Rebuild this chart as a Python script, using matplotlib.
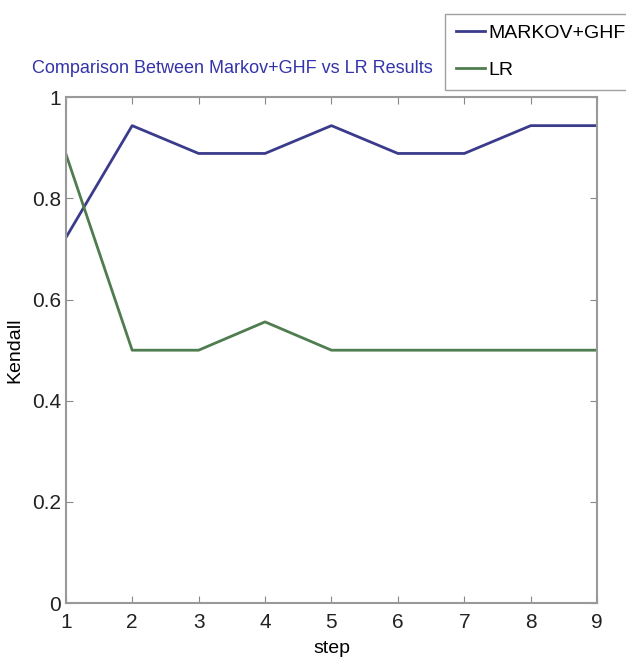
import matplotlib.pyplot as plt

steps = [1, 2, 3, 4, 5, 6, 7, 8, 9]
markov_ghf = [0.722, 0.944, 0.889, 0.889, 0.944, 0.889, 0.889, 0.944, 0.944]
lr = [0.889, 0.5, 0.5, 0.556, 0.5, 0.5, 0.5, 0.5, 0.5]

plt.rcParams['font.family'] = ['Liberation Sans', 'DejaVu Sans']

fig = plt.figure(figsize=(6.26, 6.62), dpi=100)
ax = fig.add_axes([0.105, 0.089, 0.849, 0.764])

l1, = ax.plot(steps, markov_ghf, color='#3b3b8c', lw=2)
l2, = ax.plot(steps, lr, color='#4f7d4f', lw=2)

ax.set_xlim(1, 9)
ax.set_ylim(0, 1)
ax.set_xticks(steps)
ax.set_yticks([0, 0.2, 0.4, 0.6, 0.8, 1])
ax.set_yticklabels(['0', '0.2', '0.4', '0.6', '0.8', '1'])
ax.tick_params(direction='in', labelsize=15, colors='#888888', labelcolor='#222222',
               top=True, right=True, length=5)
ax.tick_params(axis='x', pad=7)
for s in ax.spines.values():
    s.set_color('#999999')
    s.set_linewidth(1.5)

ax.set_xlabel('step', fontsize=14, labelpad=6)
ax.set_ylabel('Kendall', fontsize=14, labelpad=6)
fig.text(0.372, 0.897, 'Comparison Between Markov+GHF vs LR Results', color='#3333aa',
         fontsize=13, ha='center', va='center')

fig.legend([l1, l2], ['MARKOV+GHF', 'LR'], loc='upper left',
           bbox_to_anchor=(0.711, 0.979), fontsize=14, frameon=True, fancybox=False,
           edgecolor='#888888', handlelength=1.5, handletextpad=0.2,
           borderpad=0.55, labelspacing=1.0, borderaxespad=0)

fig.savefig('out.png', dpi=100)
